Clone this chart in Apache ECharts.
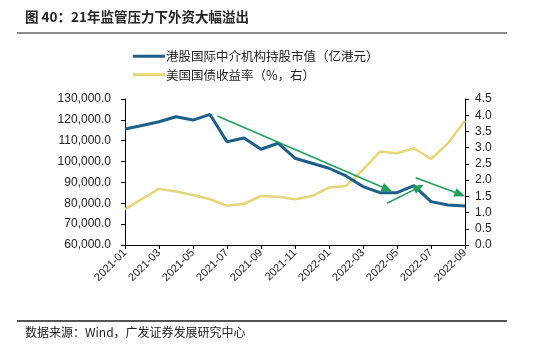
<!DOCTYPE html>
<html><head><meta charset="utf-8">
<script src="https://cdn.jsdelivr.net/npm/echarts@6/dist/echarts.min.js"></script>
<style>html,body{margin:0;padding:0;background:#fff}#c{width:550px;height:351px}</style>
</head><body><div id="c"></div>
<script>
const categories = ['2021-01','2021-02','2021-03','2021-04','2021-05','2021-06','2021-07','2021-08','2021-09','2021-10','2021-11','2021-12','2022-01','2022-02','2022-03','2022-04','2022-05','2022-06','2022-07','2022-08','2022-09'];
const hkHoldings = [115600,117300,119100,121500,119900,122600,109500,111300,105900,108800,101600,99200,96800,93100,88000,85100,85100,88500,80800,79200,78700];
const usYield = [1.10,1.42,1.73,1.65,1.54,1.41,1.21,1.27,1.51,1.49,1.41,1.51,1.77,1.82,2.32,2.88,2.83,2.98,2.65,3.14,3.83];
const seriesNames = ['港股国际中介机构持股市值（亿港元）','美国国债收益率（%，右）'];
// annotation arrows: [startIndex, startValue, endIndex, endValue] on left axis
const arrows = [[5.43,121840,15.43,86700],[15.41,80000,17.29,87660],[17.1,92260,19.71,84300]];
const titleText = '图 40：21年监管压力下外资大幅溢出';
const sourceText = '数据来源：Wind，广发证券发展研究中心';

const chart = echarts.init(document.getElementById('c'), null, {renderer:'canvas'});
const fmt = v => v.toLocaleString('en-US',{minimumFractionDigits:1,maximumFractionDigits:1});
const font = 'Liberation Sans, Arial, sans-serif';
const cjk = '"Noto Sans CJK SC", sans-serif';
chart.setOption({
  animation:false,
  backgroundColor:'#fff',
  grid:{left:125,right:85,top:99,bottom:106,containLabel:false},
  legend:{
    orient:'vertical',left:128,top:45,itemGap:6,itemWidth:32,itemHeight:3,icon:'rect',
    data:seriesNames,
    textStyle:{fontFamily:cjk,fontSize:12.5,color:'#222',padding:[0,0,0,-4]}
  },
  xAxis:[{
    type:'category',data:categories,boundaryGap:false,
    axisLine:{lineStyle:{color:'#000',width:1}},
    axisTick:{show:true,interval:1,length:4,lineStyle:{color:'#000'}},
    axisLabel:{interval:1,rotate:45,fontFamily:font,fontSize:11,color:'#222',margin:6},
    splitLine:{show:false}
  },{
    type:'value',min:0,max:20,show:false
  }],
  yAxis:[{
    type:'value',min:60000,max:130000,interval:10000,
    axisLine:{show:true,lineStyle:{color:'#000'}},
    axisTick:{show:true,length:4,lineStyle:{color:'#000'}},
    axisLabel:{formatter:fmt,fontFamily:font,fontSize:12,color:'#222',margin:14},
    splitLine:{show:false}
  },{
    type:'value',min:0,max:4.5,interval:0.5,position:'right',
    axisLine:{show:true,lineStyle:{color:'#000'}},
    axisTick:{show:true,length:4,lineStyle:{color:'#000'}},
    axisLabel:{formatter:v=>v.toFixed(1),fontFamily:font,fontSize:12,color:'#222',margin:10},
    splitLine:{show:false}
  }],
  series:[{
    name:seriesNames[0],type:'line',data:hkHoldings,yAxisIndex:0,
    symbol:'none',lineStyle:{color:'#1d5f8a',width:3},itemStyle:{color:'#1d5f8a'},z:3
  },{
    name:seriesNames[1],type:'line',data:usYield,yAxisIndex:1,
    symbol:'none',lineStyle:{color:'#e6d67a',width:2.5},itemStyle:{color:'#e6d67a'},z:2
  },{
    name:'arrows',type:'line',xAxisIndex:1,yAxisIndex:0,data:[],symbol:'none',silent:true,z:4,
    markLine:{
      silent:true,animation:false,symbol:['none','triangle'],symbolSize:[9,11],
      label:{show:false},
      lineStyle:{color:'#1fa15a',width:1.5,type:'solid'},
      data:arrows.map(a=>[{coord:[a[0],a[1]]},{coord:[a[2],a[3]]}])
    }
  }],
  graphic:[
    {type:'text',left:25,top:10,style:{text:titleText,font:'bold 13.5px '+cjk,fill:'#222'}},
    {type:'line',shape:{x1:17,y1:33,x2:507,y2:33},style:{stroke:'#666',lineWidth:1.5}},
    {type:'line',shape:{x1:17,y1:321,x2:507,y2:321},style:{stroke:'#555',lineWidth:2}},
    {type:'text',left:25,top:326,style:{text:sourceText,font:'12px '+cjk,fill:'#222'}}
  ]
});
</script></body></html>
